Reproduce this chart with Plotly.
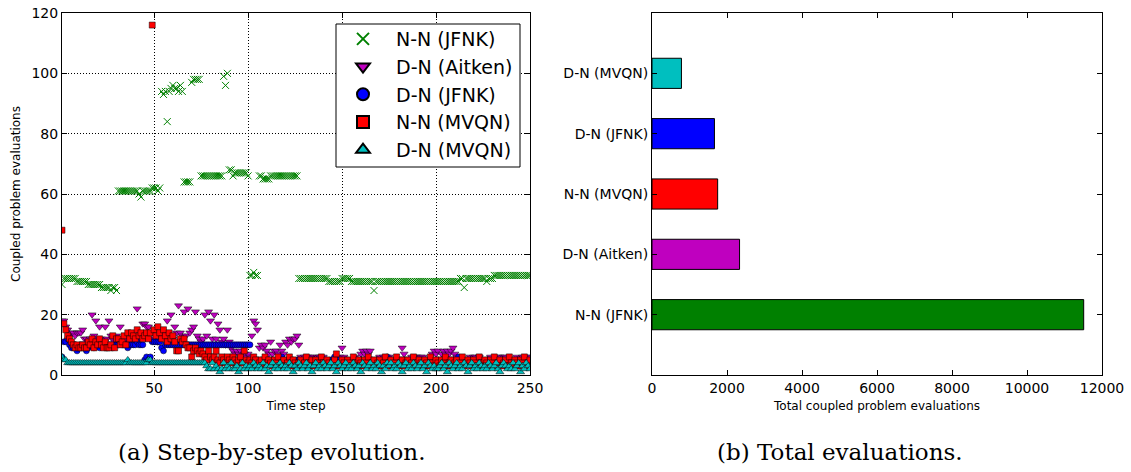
import plotly.graph_objects as go

W, H = 1131, 472

# ---------------- data: coupled problem evaluations per time step ----------------
steps = list(range(1, 251))

nn_jfnk = [
    30, 32, 32, 32, 32, 32, 32, 32, 31, 31, 31, 31, 31, 31, 30, 30, 30, 30, 30, 30, 30, 29, 29, 29, 29,
    29, 28, 29, 29, 28, 61, 61, 61, 61, 61, 61, 61, 61, 61, 61, 61, 60, 59, 61, 61, 61, 61, 61, 62, 62,
    62, 61, 62, 94, 93, 94, 84, 94, 95, 96, 95, 95, 94, 96, 94, 64, 64, 64, 64, 97, 98, 98, 98, 98, 66,
    66, 66, 66, 66, 66, 66, 66, 66, 66, 66, 66, 99, 96, 100, 68, 68, 66, 67, 67, 67, 67, 67, 67, 67, 66,
    33, 33, 34, 33, 33, 66, 66, 65, 65, 65, 65, 66, 66, 66, 66, 66, 66, 66, 66, 66, 66, 66, 66, 66, 66,
    66, 32, 32, 32, 32, 32, 32, 32, 32, 32, 32, 32, 32, 32, 32, 32, 32, 31, 31, 31, 31, 31, 31, 31, 32,
    32, 32, 32, 32, 31, 31, 31, 31, 31, 31, 31, 31, 31, 31, 31, 31, 28, 31, 31, 31, 31, 31, 31, 31, 31,
    31, 31, 31, 31, 31, 31, 31, 31, 31, 31, 31, 31, 31, 31, 31, 31, 31, 31, 31, 31, 31, 31, 31, 31, 31,
    31, 31, 31, 31, 31, 31, 31, 31, 31, 31, 31, 31, 32, 32, 29, 32, 32, 32, 32, 32, 32, 32, 32, 32, 32,
    32, 31, 32, 32, 32, 33, 33, 33, 33, 33, 33, 33, 33, 33, 33, 33, 33, 33, 33, 33, 33, 33, 33, 33, 33,
]

dn_aitken = [
    18, 18, 16, 15, 13, 14, 14, 13, 14, 14, 14, 15, 12, 12, 11, 12, 20, 13, 18, 12, 16, 12, 11, 16, 12,
    18, 13, 12, 11, 13, 12, 16, 12, 11, 12, 10, 11, 12, 13, 11, 22, 12, 13, 17, 17, 16, 16, 12, 14, 15,
    13, 11, 13, 12, 14, 12, 18, 13, 20, 12, 16, 14, 23, 14, 13, 21, 13, 22, 14, 15, 16, 21, 13, 12, 11,
    12, 20, 13, 21, 18, 12, 20, 12, 17, 15, 11, 12, 10, 15, 11, 9, 8, 7, 8, 7, 8, 6, 7, 6, 7,
    6, 13, 18, 17, 15, 9, 10, 9, 10, 8, 7, 11, 7, 8, 8, 7, 10, 8, 7, 11, 10, 12, 11, 12, 12,
    13, 10, 6, 5, 6, 5, 6, 6, 5, 6, 5, 6, 6, 5, 6, 5, 4, 4, 5, 4, 5, 4, 5, 6, 9,
    6, 4, 5, 4, 4, 5, 6, 4, 5, 7, 8, 7, 8, 7, 8, 5, 4, 5, 4, 6, 5, 6, 5, 6, 6,
    5, 4, 5, 4, 4, 5, 9, 7, 4, 5, 4, 6, 5, 6, 6, 5, 6, 6, 4, 5, 4, 4, 7, 8, 7,
    8, 5, 7, 8, 7, 8, 7, 8, 9, 7, 6, 4, 5, 4, 5, 4, 4, 6, 5, 6, 6, 5, 6, 4, 5,
    4, 4, 5, 6, 4, 5, 4, 6, 6, 5, 6, 6, 4, 5, 4, 5, 4, 6, 5, 4, 6, 5, 6, 6, 5,
]

dn_jfnk = [
    6, 11, 11, 12, 10, 9, 9, 10, 8, 9, 10, 10, 9, 8, 9, 10, 10, 9, 10, 10, 9, 10, 10, 10, 9,
    10, 10, 9, 10, 10, 10, 11, 10, 10, 10, 9, 10, 10, 10, 10, 11, 10, 10, 10, 5, 6, 5, 6, 11, 11,
    11, 11, 11, 9, 8, 10, 10, 10, 10, 10, 10, 10, 10, 10, 10, 10, 10, 10, 10, 10, 10, 10, 10, 10, 10,
    10, 10, 10, 10, 10, 10, 10, 10, 10, 10, 10, 10, 10, 10, 10, 10, 10, 10, 10, 10, 10, 10, 10, 10, 10,
    10, 5, 4, 5, 5, 4, 5, 5, 4, 5, 4, 5, 5, 4, 5, 5, 4, 6, 5, 4, 5, 5, 4, 5, 4,
    5, 5, 4, 5, 4, 5, 5, 4, 5, 5, 4, 5, 4, 5, 5, 4, 5, 4, 5, 5, 6, 4, 5, 4, 5,
    4, 5, 5, 4, 5, 4, 5, 5, 4, 5, 5, 4, 5, 4, 5, 5, 4, 5, 5, 4, 5, 4, 5, 6, 4,
    5, 5, 4, 5, 4, 5, 5, 4, 5, 5, 4, 5, 4, 5, 5, 4, 5, 5, 4, 5, 4, 5, 5, 4, 5,
    5, 4, 5, 5, 4, 5, 4, 5, 5, 4, 5, 6, 4, 5, 5, 4, 5, 4, 5, 5, 4, 5, 5, 4, 5,
    4, 5, 5, 4, 5, 5, 4, 5, 4, 5, 5, 4, 5, 5, 4, 5, 4, 5, 5, 4, 5, 5, 4, 5, 4,
]

nn_mvqn = [
    48, 17, 15, 13, 12, 11, 10, 9, 10, 9, 9, 10, 9, 9, 11, 10, 12, 9, 11, 10, 12, 10, 9, 11, 9,
    9, 10, 13, 9, 12, 12, 10, 11, 13, 10, 14, 12, 14, 13, 12, 15, 13, 14, 12, 13, 14, 12, 14, 116, 15,
    13, 16, 14, 12, 15, 13, 11, 14, 12, 13, 11, 8, 8, 12, 11, 12, 10, 9, 9, 6, 8, 9, 8, 7, 8,
    7, 6, 5, 8, 6, 5, 6, 8, 5, 4, 6, 5, 4, 6, 5, 4, 6, 5, 4, 5, 6, 4, 8, 5, 4,
    5, 4, 6, 5, 3, 4, 5, 3, 6, 4, 5, 4, 3, 5, 4, 6, 3, 4, 5, 3, 4, 6, 3, 5, 4,
    3, 4, 5, 3, 4, 6, 3, 4, 5, 3, 5, 4, 3, 6, 4, 3, 5, 4, 3, 4, 5, 7, 3, 4, 5,
    4, 3, 5, 4, 3, 6, 4, 3, 5, 4, 3, 5, 4, 6, 3, 4, 5, 3, 4, 5, 3, 4, 6, 3, 4,
    5, 3, 4, 6, 3, 4, 5, 3, 4, 5, 3, 4, 6, 3, 4, 5, 4, 3, 5, 4, 3, 6, 4, 3, 5,
    4, 3, 5, 4, 6, 3, 4, 5, 3, 4, 5, 3, 4, 6, 3, 4, 5, 4, 3, 5, 4, 3, 6, 4, 3,
    5, 4, 3, 5, 4, 6, 3, 4, 5, 3, 4, 5, 3, 6, 4, 3, 5, 4, 3, 5, 4, 6, 3, 4, 5,
]

dn_mvqn = [
    6, 5, 5, 4, 4, 4, 4, 4, 4, 4, 4, 4, 4, 4, 4, 4, 4, 4, 4, 4, 4, 4, 4, 4, 4,
    4, 4, 4, 4, 4, 4, 4, 4, 4, 4, 5, 4, 4, 4, 4, 4, 4, 4, 4, 4, 4, 5, 5, 4, 4,
    4, 4, 4, 4, 4, 4, 4, 4, 4, 4, 4, 4, 4, 4, 4, 4, 4, 4, 4, 4, 4, 4, 4, 4, 4,
    4, 4, 3, 2, 2, 4, 2, 3, 2, 1, 2, 4, 2, 3, 2, 4, 2, 2, 3, 1, 2, 4, 2, 3, 2,
    3, 2, 4, 3, 2, 3, 2, 4, 2, 3, 1, 3, 4, 2, 3, 2, 4, 3, 2, 3, 2, 4, 3, 1, 3,
    2, 4, 3, 2, 3, 4, 2, 3, 1, 3, 4, 2, 3, 2, 4, 3, 2, 3, 4, 2, 3, 1, 4, 3, 2,
    3, 4, 2, 3, 2, 4, 3, 2, 3, 1, 4, 3, 2, 3, 4, 2, 3, 2, 4, 3, 1, 3, 2, 4, 3,
    4, 2, 3, 2, 4, 3, 1, 3, 4, 2, 3, 2, 4, 3, 2, 3, 4, 2, 3, 1, 4, 3, 2, 3, 2,
    2, 3, 4, 2, 3, 1, 4, 3, 2, 3, 4, 2, 3, 2, 4, 3, 1, 3, 4, 2, 3, 2, 4, 3, 2,
    3, 2, 4, 3, 2, 3, 4, 2, 1, 3, 4, 3, 2, 3, 2, 4, 2, 3, 4, 1, 3, 2, 4, 3, 2,
]

# ---------------- data: total evaluations ----------------
methods = ["N-N (JFNK)", "D-N (Aitken)", "N-N (MVQN)", "D-N (JFNK)", "D-N (MVQN)"]
totals = [11512, 2335, 1751, 1665, 785]

# ---------------- style ----------------
C_GREEN = "#008000"
C_MAGENTA = "#bf00bf"
C_BLUE = "#0000ff"
C_RED = "#ff0000"
C_CYAN = "#00bfbf"
bar_colors = [C_GREEN, C_MAGENTA, C_RED, C_BLUE, C_CYAN]

SANS = "DejaVu Sans"
SERIF = "DejaVu Serif"


def px_x(p):
    return p / W


def px_y(p):
    return 1 - p / H


fig = go.Figure()

series = [
    ("N-N (JFNK)", nn_jfnk, "x-thin-open", 7, C_GREEN, C_GREEN, 1.0),
    ("D-N (Aitken)", dn_aitken, "triangle-down", 7, C_MAGENTA, "black", 0.5),
    ("D-N (JFNK)", dn_jfnk, "circle", 6, C_BLUE, "black", 0.5),
    ("N-N (MVQN)", nn_mvqn, "square", 6, C_RED, "black", 0.5),
    ("D-N (MVQN)", dn_mvqn, "triangle-up", 7, C_CYAN, "black", 0.5),
]
for i, (name, vals, sym, size, col, lcol, lw) in enumerate(series):
    fig.add_trace(go.Scatter(
        x=steps, y=vals, mode="markers", name=name,
        legendgroup=f"g{i}",
        marker=dict(symbol=sym, size=size, color=col,
                    line=dict(color=lcol, width=lw)),
        xaxis="x", yaxis="y",
    ))

fig.add_trace(go.Bar(
    x=totals, y=methods, orientation="h", width=0.5,
    marker=dict(color=bar_colors, line=dict(color="black", width=1)),
    showlegend=False, xaxis="x2", yaxis="y2",
))

axis_common = dict(
    showline=True, linecolor="black", linewidth=1, mirror="ticks",
    ticks="inside", ticklen=5, tickwidth=1, tickcolor="black",
    zeroline=False, automargin=False,
    tickfont=dict(family=SANS, size=14, color="black"),
)
grid = dict(showgrid=True, gridcolor="black", gridwidth=1, griddash="1px,2px")
title_font = dict(family=SANS, size=12, color="black")

ydom = [px_y(375), px_y(13)]

fig.update_layout(
    width=W, height=H,
    margin=dict(l=0, r=0, t=0, b=0, autoexpand=False),
    paper_bgcolor="white", plot_bgcolor="white",
    showlegend=True,
    xaxis=dict(domain=[px_x(62), px_x(530)], range=[1, 250],
               tickvals=[50, 100, 150, 200, 250], anchor="y",
               title=dict(text="Time step", font=title_font, standoff=6),
               **axis_common, **grid),
    yaxis=dict(domain=ydom, range=[0, 120], dtick=20, anchor="x",
               title=dict(text="Coupled problem evaluations", font=title_font, standoff=8),
               **axis_common, **grid),
    xaxis2=dict(domain=[px_x(652), px_x(1102)], range=[0, 12000], dtick=2000,
                tickformat="d", anchor="y2",
                title=dict(text="Total coupled problem evaluations", font=title_font, standoff=6),
                showgrid=False, **axis_common),
    yaxis2=dict(domain=ydom, type="category", categoryorder="array", categoryarray=methods,
                range=[-1, 5], anchor="x2", showgrid=False, **axis_common),
    legend=dict(x=px_x(330), y=px_y(20), xanchor="left", yanchor="top",
                bgcolor="rgba(0,0,0,0)", borderwidth=0,
                font=dict(family=SANS, size=19, color="black"),
                itemsizing="constant", itemwidth=56, tracegroupgap=0,
                traceorder="grouped"),
    shapes=[dict(type="rect", xref="paper", yref="paper",
                 x0=px_x(336), x1=px_x(520), y0=px_y(167), y1=px_y(24),
                 line=dict(color="black", width=1), fillcolor="white", layer="above")],
    annotations=[
        dict(text="(a) Step-by-step evolution.", x=px_x(271), y=px_y(452),
             xref="paper", yref="paper", xanchor="center", yanchor="middle",
             showarrow=False, font=dict(family=SERIF, size=23, color="black")),
        dict(text="(b) Total evaluations.", x=px_x(840), y=px_y(452),
             xref="paper", yref="paper", xanchor="center", yanchor="middle",
             showarrow=False, font=dict(family=SERIF, size=23, color="black")),
    ],
)

fig.write_html("out.html")
